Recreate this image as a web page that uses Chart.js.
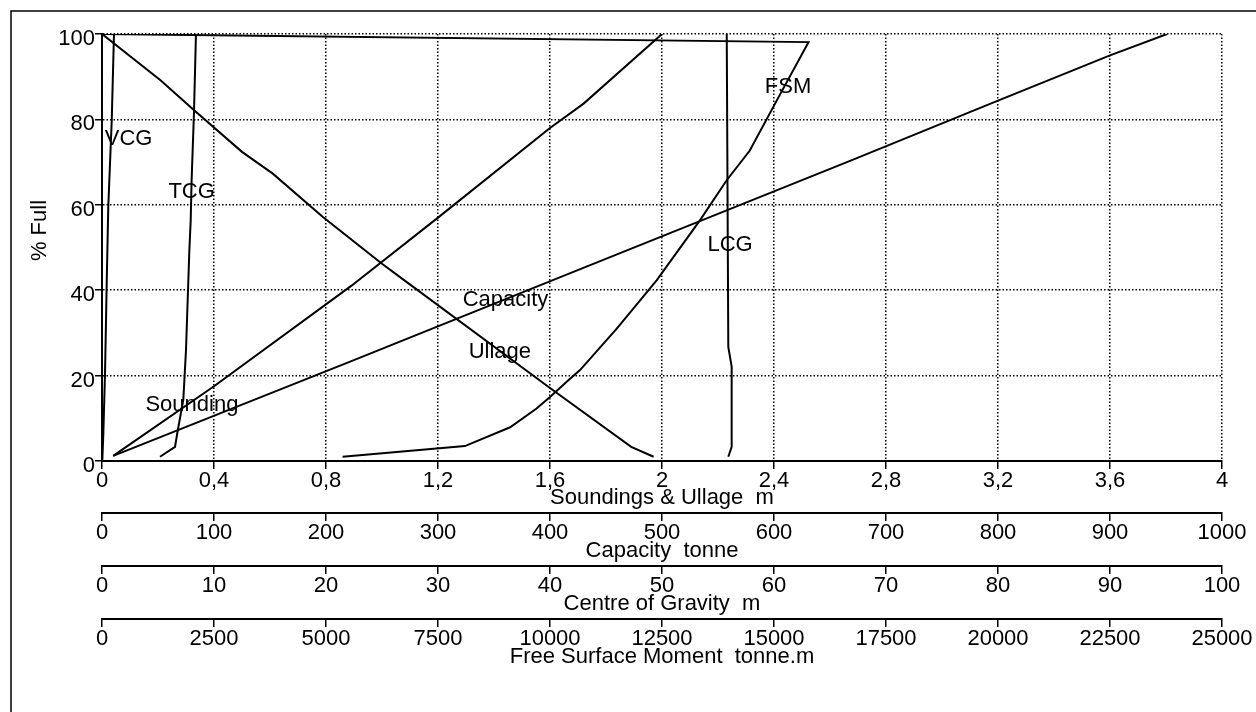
<!DOCTYPE html>
<html>
<head>
<meta charset="utf-8">
<title>Tank calibration curves</title>
<script src="https://cdn.jsdelivr.net/npm/chart.js@4/dist/chart.umd.min.js"></script>
<style>
  html, body { margin: 0; padding: 0; background: #fff; }
  #wrap { width: 1256px; height: 712px; }
</style>
</head>
<body>
<div id="wrap"><canvas id="calib"></canvas></div>
<script>
// each curve: [quantity, % full]
const soundingM = [[0.04, 1.2], [0.4, 17.5], [0.89, 41], [1.2, 57], [1.6, 78], [1.72, 83.7], [2.0, 100]];
const ullageM = [[0, 100], [0.21, 89.1], [0.33, 82.1], [0.5, 72.4], [0.61, 67.3], [0.79, 57.1],
                 [1.0, 46.2], [1.08, 42.3], [1.6, 17.1], [1.89, 3.3], [1.97, 1.0]];
const capacityT = [[10, 1.2], [221, 23.2], [437, 46], [669, 70.4], [800, 84.4], [900, 95], [951, 100]];
const vcgM = [[0.03, 0.2], [0.12, 6.5], [0.27, 20.6], [0.42, 41.6], [0.56, 59.5], [0.87, 79.8], [1.07, 100]];
const tcgM = [[5.18, 1.0], [6.52, 3.3], [6.72, 6.5], [7.26, 14.3], [7.5, 26], [7.65, 37.7],
              [7.8, 49.4], [7.92, 56.4], [8.0, 65.7], [8.21, 81.4], [8.39, 100]];
const lcgM = [[55.92, 1.0], [56.22, 3.3], [56.22, 22.1], [55.92, 26.7], [55.78, 100]];
const fsmTm = [[5370, 1.0], [8100, 3.5], [9110, 7.9], [9700, 12.3], [10000, 15], [10410, 18.9],
               [10670, 21.3], [11490, 31], [12380, 42.3], [13350, 56.4], [13940, 65.7],
               [14460, 72.7], [15060, 84.4], [15770, 98.1], [0, 100]];

// axis ticks
const pctTicks = [0, 20, 40, 60, 80, 100];
const soundingTicks = [0, 0.4, 0.8, 1.2, 1.6, 2, 2.4, 2.8, 3.2, 3.6, 4];
const capacityTicks = [0, 100, 200, 300, 400, 500, 600, 700, 800, 900, 1000];
const cgTicks = [0, 10, 20, 30, 40, 50, 60, 70, 80, 90, 100];
const fsmTicks = [0, 2500, 5000, 7500, 10000, 12500, 15000, 17500, 20000, 22500, 25000];

const FONT = '"Liberation Sans", Arial, sans-serif';
Chart.defaults.font.family = FONT;
Chart.defaults.font.size = 22;
Chart.defaults.color = '#000';

function curve(points, xAxisID) {
  return {
    data: points.map(([v, p]) => ({ x: v, y: p })),
    xAxisID: xAxisID,
    yAxisID: 'y',
    showLine: true,
    borderColor: '#000',
    borderWidth: 2,
    pointRadius: 0,
    tension: 0
  };
}

function bottomAxis(ticks, title, height, onChart, fmt) {
  return {
    type: 'linear',
    position: 'bottom',
    min: ticks[0],
    max: ticks[ticks.length - 1],
    afterBuildTicks: s => { s.ticks = ticks.map(v => ({ value: v })); },
    afterFit: s => { s.height = height; s.paddingLeft = 0; s.paddingRight = 0; },
    border: { display: true, color: '#000', width: 2, dash: onChart ? [1.5, 2] : [] },
    grid: {
      display: true, drawOnChartArea: onChart, color: '#000', lineWidth: 1.5,
      tickLength: 8, tickWidth: 1.5, tickColor: '#000'
    },
    ticks: {
      color: '#000', padding: 1, maxRotation: 0, autoSkip: false,
      font: { size: 22, lineHeight: 1 },
      callback: fmt || (v => String(v))
    },
    title: {
      display: true, text: title, color: '#000',
      font: { size: 22, lineHeight: 1 },
      padding: { top: 0, bottom: 4 }
    }
  };
}

// curve names written on the plot, placed in sounding / % full units
const curveLabels = [
  ['VCG', 0.095, 75.4],
  ['TCG', 0.32, 63.0],
  ['FSM', 2.45, 87.6],
  ['LCG', 2.243, 50.6],
  ['Capacity', 1.441, 37.7],
  ['Ullage', 1.421, 25.5],
  ['Sounding', 0.321, 13.1]
];

const annotate = {
  id: 'annotate',
  afterDatasetsDraw(chart) {
    const { ctx, chartArea } = chart;
    const x = chart.scales.x, y = chart.scales.y;
    ctx.save();
    ctx.fillStyle = '#000';
    ctx.font = '22px ' + FONT;
    ctx.textAlign = 'center';
    ctx.textBaseline = 'middle';
    curveLabels.forEach(([t, xv, yv]) => {
      ctx.fillText(t, x.getPixelForValue(xv), y.getPixelForValue(yv));
    });
    // vertical axis title
    ctx.translate(40, (chartArea.top + chartArea.bottom) / 2 - 17);
    ctx.rotate(-Math.PI / 2);
    ctx.fillText('% Full', 0, 0);
    ctx.restore();
  },
  afterDraw(chart) {
    const ctx = chart.ctx;
    ctx.save();
    ctx.strokeStyle = '#000';
    ctx.lineWidth = 1.5;
    ctx.strokeRect(11, 11, 1400, 1000);
    ctx.restore();
  }
};

const commaFmt = v => String(Math.round(v * 10) / 10).replace('.', ',');

new Chart(document.getElementById('calib'), {
  type: 'scatter',
  data: {
    datasets: [
      curve(soundingM, 'x'),
      curve(ullageM, 'x'),
      curve(capacityT, 'xCap'),
      curve(vcgM, 'xCG'),
      curve(tcgM, 'xCG'),
      curve(lcgM, 'xCG'),
      curve(fsmTm, 'xFSM')
    ]
  },
  options: {
    responsive: true,
    maintainAspectRatio: false,
    animation: false,
    devicePixelRatio: 1,
    layout: { padding: { left: 0, top: 34, right: 34, bottom: 40 } },
    plugins: { legend: { display: false }, tooltip: { enabled: false } },
    scales: {
      x: bottomAxis(soundingTicks, 'Soundings & Ullage  m', 52, true, commaFmt),
      xCap: bottomAxis(capacityTicks, 'Capacity  tonne', 53, false),
      xCG: bottomAxis(cgTicks, 'Centre of Gravity  m', 53, false),
      xFSM: bottomAxis(fsmTicks, 'Free Surface Moment  tonne.m', 53, false),
      y: {
        type: 'linear',
        position: 'left',
        min: 0,
        max: 100,
        afterBuildTicks: s => { s.ticks = pctTicks.map(v => ({ value: v })); },
        afterFit: s => { s.width = 102; s.paddingTop = 0; s.paddingBottom = 0; },
        border: { display: true, color: '#000', width: 2, dash: [1.5, 2] },
        grid: { color: '#000', lineWidth: 1.5, tickLength: 7, tickWidth: 1.5, tickColor: '#000' },
        ticks: { color: '#000', padding: 0, labelOffset: 5, font: { size: 22, lineHeight: 1 } },
        title: { display: false }
      }
    }
  },
  plugins: [annotate]
});
</script>
</body>
</html>
